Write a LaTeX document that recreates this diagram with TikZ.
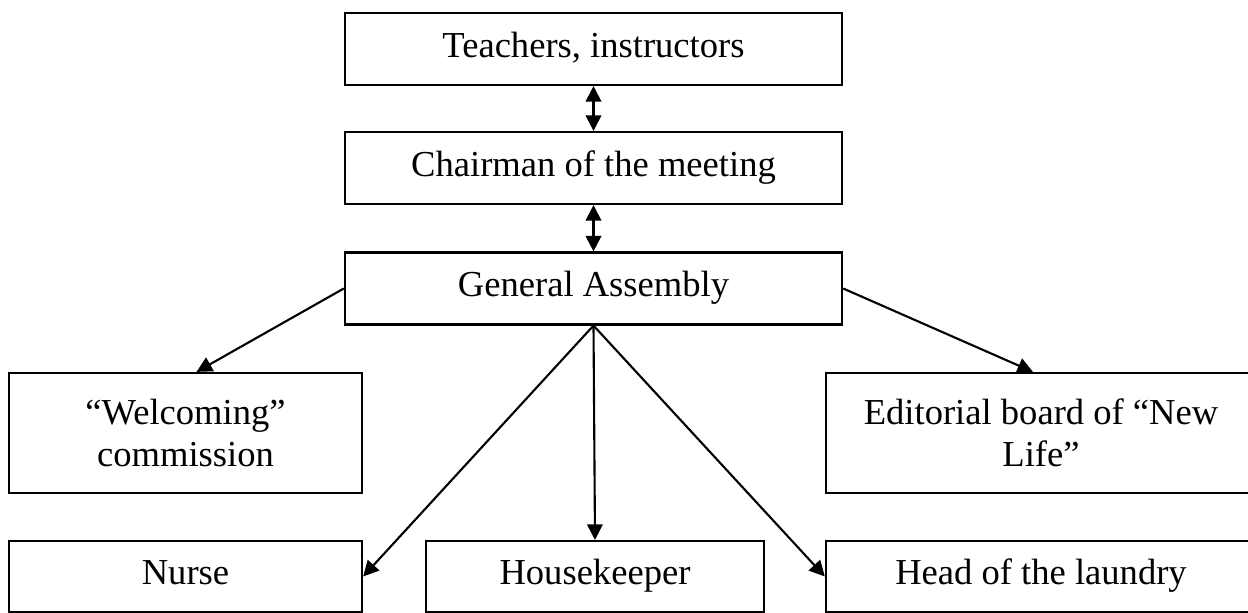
\documentclass[tikz,border=0pt]{standalone}
\usepackage{fontspec}
\setmainfont{Liberation Serif}
\usepackage{tikz}
\usetikzlibrary{arrows.meta}

\begin{document}
\begin{tikzpicture}[x=0.01cm,y=-0.01cm,line width=0.6pt,
	>={Triangle[length=4.4pt,width=4.4pt]},
	box/.style={rectangle,draw,inner sep=0pt,align=center,
		font=\fontsize{10.4}{12.1}\selectfont},
	single/.style={box,text height=0.68em,text depth=0.22em,minimum height=0.71cm},
	wide/.style={single,minimum width=4.97cm,minimum height=0.72cm},
	side/.style={box,minimum height=1.2cm}]
	\useasboundingbox (0,0) rectangle (1248,613);
	\clip (0,0) rectangle (1248,613);

	\node[wide](teach) at (593.5,49) {Teachers, instructors};
	\node[wide](chair) at (593.5,168) {Chairman of the meeting};
	\node[wide](ga) at (593.5,288.5) {General Assembly};
	\node[side,minimum width=3.53cm](welc) at (185.5,433) {``Welcoming''\\commission};
	\node[side,minimum width=4.3cm](edit) at (1041,433) {Editorial board of ``New\\Life''};
	\node[single,minimum width=3.53cm](nurse) at (185.5,576.5) {Nurse};
	\node[single,minimum width=3.38cm](house) at (595,576.5) {Housekeeper};
	\node[single,minimum width=4.3cm](laundry) at (1041,576.5) {Head of the laundry};

	\draw[<->] (teach) -- (chair);
	\draw[<->] (chair) -- (ga);
	\draw[->] (ga.west) -- ([xshift=0.11cm]welc.north);
	\draw[->] (ga.east) -- ([xshift=-0.08cm]edit.north);
	\draw[->] (ga.south) -- (nurse.east);
	\draw[->] (ga.south) -- (house.north);
	\draw[->] (ga.south) -- (laundry.west);
\end{tikzpicture}
\end{document}
